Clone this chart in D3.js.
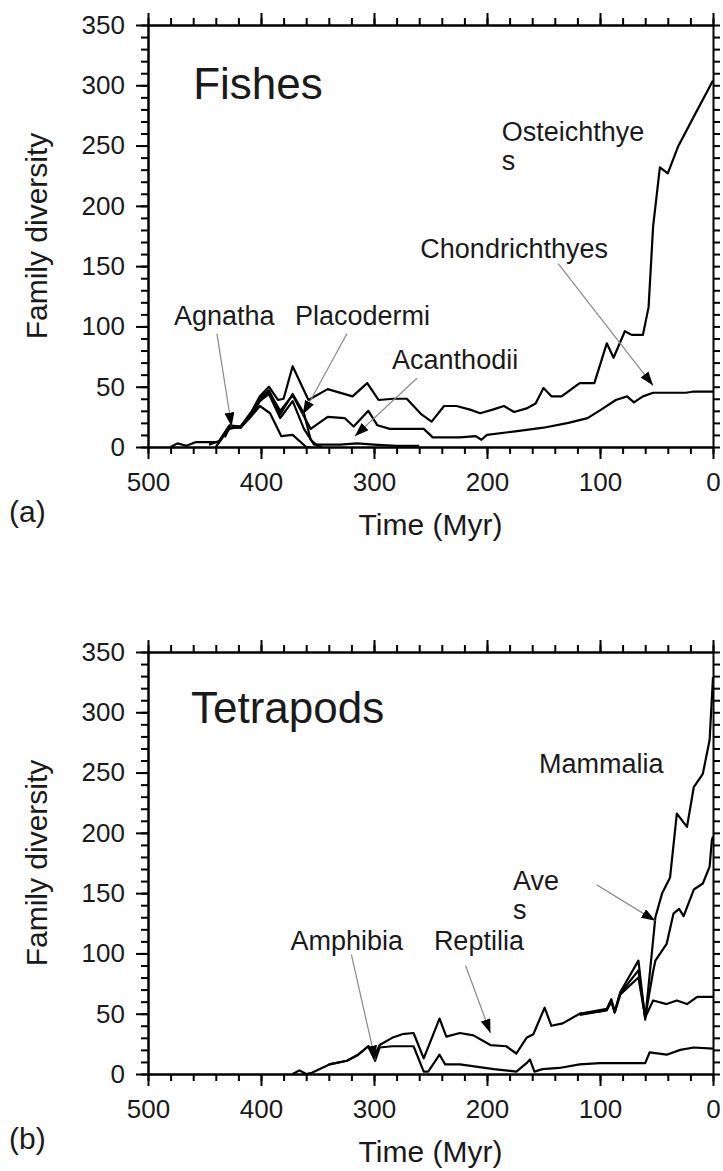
<!DOCTYPE html>
<html>
<head>
<meta charset="utf-8">
<script src="https://cdn.jsdelivr.net/npm/d3@7"></script>
<style>
  body { margin: 0; background: #fff; }
  text { font-family: "Liberation Sans", Arial, Helvetica, sans-serif; fill: #1a1a1a; }
  .axis path, .axis line { stroke: #000; stroke-width: 2; }
  .axis text { font-size: 26px; }
  .curve { fill: none; stroke: #000; stroke-width: 2.2; stroke-linejoin: round; }
  .pointer { stroke: #888; stroke-width: 1.2; }
</style>
</head>
<body>
<div id="chart"></div>
<script>
// tick values shared by both panels
var timeMajor = [500, 400, 300, 200, 100, 0];
var timeMinor = d3.range(0, 501, 20);
var divMajor = [0, 50, 100, 150, 200, 250, 300, 350];
var divMinor = d3.range(0, 351, 10);

// (a) fishes: [time Myr, family count]
var osteichthyes = [[446,2],[437,5],[428,18],[418,17],[408,30],[401,42],[393,50],[385,39],[380,40],[372,67],
  [358,39],[341,48],[319,42],[306,53],[296,39],[283,40],[271,40],[258,27],[249,21],[238,34],[227,34],[215,31],
  [206,28],[195,31],[185,34],[176,29],[165,32],[157,36],[150,49],[143,42],[134,42],[118,53],[105,53],[94,86],
  [88,74],[78,96],[72,93],[62,93],[57,116],[53,183],[47,232],[40,227],[31,249],[17,274],[0,304]];
var chondrichthyes = [[440,0],[437,4],[428,17],[418,17],[408,28],[401,40],[393,46],[383,30],[372,43],[356,15],
  [341,25],[326,24],[318,17],[305,30],[297,18],[286,15],[256,15],[248,8],[224,8],[210,9],[205,6],[200,10],
  [175,13],[150,16],[128,20],[111,24],[99,31],[86,39],[76,42],[70,37],[62,42],[53,45],[24,45],[17,46],[0,46]];
var agnatha = [[480,0],[474,3],[466,1],[458,4],[445,4],[437,4],[428,17],[418,16],[410,24],[401,34],[392,28],
  [382,9],[372,10],[360,0],[356,0]];
var placodermi = [[432,8],[428,16],[418,16],[408,29],[400,41],[393,47],[383,27],[372,44],[362,28],[356,6],[350,1],[346,0]];
var acanthodii = [[438,3],[428,15],[418,17],[408,27],[401,38],[393,44],[383,24],[372,38],[362,15],[353,2],
  [330,2],[315,3],[300,2],[280,1],[260,1]];

// (b) tetrapods
var amphibia = [[372,0],[366,3],[360,0],[355,1],[339,8],[324,11],[314,16],[305,23],[299,11],[295,22],[284,23],
  [265,23],[256,2],[252,2],[242,16],[237,8],[224,8],[194,4],[174,2],[165,9],[162,12],[158,2],[151,4],
  [136,5],[118,8],[100,9],[79,9],[60,9],[56,18],[41,16],[29,20],[17,22],[0,21]];
var reptilia = [[340,8],[324,11],[314,16],[305,23],[300,14],[295,24],[284,30],[275,33],[265,34],[256,13],
  [242,46],[236,31],[224,34],[212,32],[197,24],[183,23],[174,17],[165,30],[159,33],[149,55],[143,40],
  [133,42],[118,50],[100,52],[94,53],[90,60],[87,51],[82,66],[66,80],[60,47],[53,61],[41,58],[32,61],
  [23,58],[14,64],[0,64]];
var mammalia = [[118,50],[100,53],[94,54],[90,62],[87,52],[82,68],[66,94],[60,45],[51,130],[45,150],
  [38,163],[32,216],[23,205],[17,238],[9,249],[3,277],[0,329]];
var aves = [[118,49],[100,52],[94,53],[90,61],[87,51],[82,67],[66,86],[60,47],[53,85],[51,94],[41,108],
  [35,133],[30,137],[26,131],[17,153],[9,158],[3,172],[1,194],[0,197]];

var width = 723, height = 1171;
var svg = d3.select("#chart").append("svg")
    .attr("width", width)
    .attr("height", height);

svg.append("defs").append("marker")
    .attr("id", "head")
    .attr("viewBox", "0 0 14 10")
    .attr("refX", 14)
    .attr("refY", 5)
    .attr("markerUnits", "userSpaceOnUse")
    .attr("markerWidth", 14)
    .attr("markerHeight", 10)
    .attr("orient", "auto")
    .append("path")
    .attr("d", "M0,0L14,5L0,10Z")
    .attr("fill", "#000");

var panels = [
  {
    top: 25, letter: "(a)", title: "Fishes", titleAt: [460, 289],
    series: [osteichthyes, chondrichthyes, agnatha, placodermi, acanthodii],
    notes: [
      {lines: ["Osteichthye", "s"], at: [187, 254]},
      {lines: ["Chondrichthyes"], at: [259, 157], from: [137, 152], to: [53, 51]},
      {lines: ["Agnatha"], at: [477, 101], from: [439, 94], to: [426, 17]},
      {lines: ["Placodermi"], at: [370, 101], from: [324, 94], to: [363, 27]},
      {lines: ["Acanthodii"], at: [284, 65], from: [262, 57], to: [317, 9]}
    ]
  },
  {
    top: 652, letter: "(b)", title: "Tetrapods", titleAt: [462, 291],
    series: [amphibia, reptilia, mammalia, aves],
    notes: [
      {lines: ["Mammalia"], at: [154, 250]},
      {lines: ["Ave", "s"], at: [177, 153], from: [103, 157], to: [51, 127]},
      {lines: ["Amphibia"], at: [374, 103], from: [320, 99], to: [299, 12]},
      {lines: ["Reptilia"], at: [247, 103], from: [219, 90], to: [197, 34]}
    ]
  }
];

var left = 148, right = 713, plotH = 422;

panels.forEach(drawPanel);

function drawPanel(p) {
    var x = d3.scaleLinear().domain([500, 0]).range([left, right]);
    var y = d3.scaleLinear().domain([0, 350]).range([p.top + plotH, p.top]);
    var g = svg.append("g");

    // minor ticks first, then majors with labels
    g.append("g").attr("class", "axis")
        .attr("transform", "translate(0," + (p.top + plotH) + ")")
        .call(d3.axisBottom(x).tickValues(timeMinor).tickSize(7).tickSizeOuter(0).tickFormat(""));
    g.append("g").attr("class", "axis")
        .attr("transform", "translate(0," + (p.top + plotH) + ")")
        .call(d3.axisBottom(x).tickValues(timeMajor).tickSize(12).tickSizeOuter(0).tickPadding(14).tickFormat(d3.format("d")));
    g.append("g").attr("class", "axis")
        .attr("transform", "translate(0," + p.top + ")")
        .call(d3.axisTop(x).tickValues(timeMinor).tickSize(7).tickSizeOuter(0).tickFormat(""));
    g.append("g").attr("class", "axis")
        .attr("transform", "translate(0," + p.top + ")")
        .call(d3.axisTop(x).tickValues(timeMajor).tickSize(12).tickSizeOuter(0).tickFormat(""));
    g.append("g").attr("class", "axis")
        .attr("transform", "translate(" + left + ",0)")
        .call(d3.axisLeft(y).tickValues(divMinor).tickSize(7).tickSizeOuter(0).tickFormat(""));
    g.append("g").attr("class", "axis")
        .attr("transform", "translate(" + left + ",0)")
        .call(d3.axisLeft(y).tickValues(divMajor).tickSize(12).tickSizeOuter(0).tickPadding(11).tickFormat(d3.format("d")));
    g.append("g").attr("class", "axis")
        .attr("transform", "translate(" + right + ",0)")
        .call(d3.axisRight(y).tickValues(divMinor).tickSize(7).tickSizeOuter(0).tickFormat(""));

    g.selectAll(".axis text").attr("fill", "#1a1a1a");

    var line = d3.line()
        .x(function (d) { return x(d[0]); })
        .y(function (d) { return y(d[1]); });

    g.selectAll(".curve")
        .data(p.series)
        .enter().append("path")
        .attr("class", "curve")
        .attr("d", line);

    g.append("text")
        .attr("x", x(p.titleAt[0]))
        .attr("y", y(p.titleAt[1]))
        .attr("font-size", 44)
        .text(p.title);

    p.notes.forEach(function (n) {
        var t = g.append("text")
            .attr("x", x(n.at[0]))
            .attr("y", y(n.at[1]))
            .attr("font-size", 27);
        n.lines.forEach(function (s, i) {
            t.append("tspan")
                .attr("x", x(n.at[0]))
                .attr("dy", i ? 29 : 0)
                .text(s);
        });
        if (n.from) {
            g.append("line")
                .attr("class", "pointer")
                .attr("x1", x(n.from[0])).attr("y1", y(n.from[1]))
                .attr("x2", x(n.to[0])).attr("y2", y(n.to[1]))
                .attr("marker-end", "url(#head)");
        }
    });

    g.append("text")
        .attr("x", (left + right) / 2)
        .attr("y", p.top + plotH + 88)
        .attr("text-anchor", "middle")
        .attr("font-size", 30)
        .text("Time (Myr)");

    g.append("text")
        .attr("transform", "translate(47," + (p.top + plotH / 2) + ") rotate(-90)")
        .attr("text-anchor", "middle")
        .attr("font-size", 30)
        .text("Family diversity");

    g.append("text")
        .attr("x", 9)
        .attr("y", p.top + plotH + 75)
        .attr("font-size", 30)
        .text(p.letter);
}
</script>
</body>
</html>
